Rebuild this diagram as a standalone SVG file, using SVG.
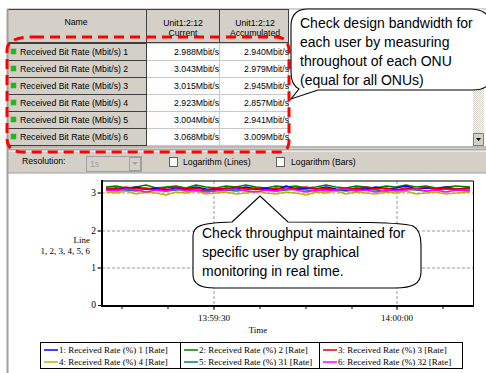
<svg xmlns="http://www.w3.org/2000/svg" width="486" height="373" viewBox="0 0 486 373">
<style>
.ui{font-family:"Liberation Sans",Arial,sans-serif;font-size:8.7px;fill:#000}
.ser{font-family:"Liberation Serif","Times New Roman",serif;font-size:9px;fill:#000}
.big{font-family:"Liberation Sans",Arial,sans-serif;font-size:14px;fill:#000}
.gcell{fill:#d4d0c8;stroke:#404040;stroke-width:1}
.wcell{fill:#fff;stroke:#c8c8c8;stroke-width:1}
.grid{stroke:#999;stroke-width:1;stroke-dasharray:3 2;fill:none}
.dl{fill:none;stroke-width:1.4;stroke-linejoin:round}
.bubble{fill:#fff;stroke:#000;stroke-width:1.1}
</style>
<defs>
<pattern id="chk" width="2" height="2" patternUnits="userSpaceOnUse">
<rect width="2" height="2" fill="#fff"/><rect width="1" height="1" fill="#d4d0c8"/><rect x="1" y="1" width="1" height="1" fill="#d4d0c8"/>
</pattern>
</defs>
<rect width="486" height="373" fill="#fff"/>
<g id="table">
<rect x="7" y="9" width="479" height="138" fill="#fff"/>
<line x1="7" y1="9" x2="486" y2="9" stroke="#a0a0a0"/>
<rect class="gcell" x="7.5" y="9.5" width="139" height="33"/>
<rect class="gcell" x="146.5" y="9.5" width="73" height="33"/>
<rect class="gcell" x="219.5" y="9.5" width="69" height="33"/>
<text class="ui" x="76" y="25" text-anchor="middle">Name</text>
<text class="ui" x="183" y="26" text-anchor="middle">Unit1:2:12</text>
<text class="ui" x="183" y="36" text-anchor="middle">Current</text>
<text class="ui" x="255" y="26" text-anchor="middle">Unit1:2:12</text>
<text class="ui" x="255" y="36" text-anchor="middle">Accumulated</text>
<g id="rows">
<rect class="gcell" x="7.5" y="43.5" width="139" height="17"/>
<rect class="gcell" x="7.5" y="60.5" width="139" height="17"/>
<rect class="gcell" x="7.5" y="77.5" width="139" height="17"/>
<rect class="gcell" x="7.5" y="94.5" width="139" height="17"/>
<rect class="gcell" x="7.5" y="111.5" width="139" height="17"/>
<rect class="gcell" x="7.5" y="128.5" width="139" height="17"/>
<rect class="wcell" x="146.5" y="43.5" width="73" height="17"/><rect class="wcell" x="219.5" y="43.5" width="69" height="17"/>
<rect class="wcell" x="146.5" y="60.5" width="73" height="17"/><rect class="wcell" x="219.5" y="60.5" width="69" height="17"/>
<rect class="wcell" x="146.5" y="77.5" width="73" height="17"/><rect class="wcell" x="219.5" y="77.5" width="69" height="17"/>
<rect class="wcell" x="146.5" y="94.5" width="73" height="17"/><rect class="wcell" x="219.5" y="94.5" width="69" height="17"/>
<rect class="wcell" x="146.5" y="111.5" width="73" height="17"/><rect class="wcell" x="219.5" y="111.5" width="69" height="17"/>
<rect class="wcell" x="146.5" y="128.5" width="73" height="17"/><rect class="wcell" x="219.5" y="128.5" width="69" height="17"/>
<line x1="146.5" y1="43" x2="146.5" y2="146" stroke="#404040"/>
<g fill="#00cc00" stroke="#808080" stroke-width="0.6">
<rect x="11" y="49" width="5" height="5"/><rect x="11" y="66" width="5" height="5"/><rect x="11" y="83" width="5" height="5"/>
<rect x="11" y="100" width="5" height="5"/><rect x="11" y="117" width="5" height="5"/><rect x="11" y="134" width="5" height="5"/>
</g>
<text class="ui" x="20" y="55">Received Bit Rate (Mbit/s) 1</text>
<text class="ui" x="20" y="72">Received Bit Rate (Mbit/s) 2</text>
<text class="ui" x="20" y="89">Received Bit Rate (Mbit/s) 3</text>
<text class="ui" x="20" y="106">Received Bit Rate (Mbit/s) 4</text>
<text class="ui" x="20" y="123">Received Bit Rate (Mbit/s) 5</text>
<text class="ui" x="20" y="140">Received Bit Rate (Mbit/s) 6</text>
<g text-anchor="end">
<text class="ui" x="219" y="55">2.988Mbit/s</text><text class="ui" x="289" y="55">2.940Mbit/s</text>
<text class="ui" x="219" y="72">3.043Mbit/s</text><text class="ui" x="289" y="72">2.979Mbit/s</text>
<text class="ui" x="219" y="89">3.015Mbit/s</text><text class="ui" x="289" y="89">2.945Mbit/s</text>
<text class="ui" x="219" y="106">2.923Mbit/s</text><text class="ui" x="289" y="106">2.857Mbit/s</text>
<text class="ui" x="219" y="123">3.004Mbit/s</text><text class="ui" x="289" y="123">2.941Mbit/s</text>
<text class="ui" x="219" y="140">3.068Mbit/s</text><text class="ui" x="289" y="140">3.009Mbit/s</text>
</g>
</g>
<g id="scrollbar">
<rect x="473" y="9" width="11" height="137" fill="url(#chk)"/>
<rect x="473.5" y="133.5" width="10" height="12" fill="#d4d0c8" stroke="#808080"/>
<polygon points="476,138 481,138 478.5,141" fill="#000"/>
</g>
</g>
<g id="toolbar">
<rect x="7" y="146" width="479" height="27" fill="#d4d0c8"/>
<line x1="7" y1="147" x2="486" y2="147" stroke="#a0a0a0"/>
<line x1="7" y1="150" x2="486" y2="150" stroke="#808080"/>
<line x1="7" y1="151" x2="486" y2="151" stroke="#fff"/>
<line x1="7" y1="173" x2="486" y2="173" stroke="#a0a0a0"/>
<text class="ui" x="22" y="164">Resolution:</text>
<rect x="86.5" y="156.5" width="55" height="15" fill="#d4d0c8" stroke="#a0a0a0"/>
<text class="ui" x="90" y="167" fill="#a0a0a0" style="fill:#a0a0a0">1s</text>
<rect x="129.5" y="157.5" width="11" height="13" fill="#d4d0c8" stroke="#a0a0a0"/>
<polygon points="132,162 138,162 135,165" fill="#a0a0a0"/>
<rect x="169.5" y="157.5" width="8" height="9" fill="#fff" stroke="#606060"/>
<text class="ui" x="183" y="165">Logarithm (Lines)</text>
<rect x="276.5" y="157.5" width="8" height="9" fill="#fff" stroke="#606060"/>
<text class="ui" x="291" y="165">Logarithm (Bars)</text>
</g>
<line x1="7.5" y1="9" x2="7.5" y2="373" stroke="#a0a0a0" stroke-width="2"/>
<g id="chart">
<g class="grid">
<line x1="97" y1="193" x2="473" y2="193"/>
<line x1="97" y1="231" x2="473" y2="231"/>
<line x1="97" y1="268" x2="473" y2="268"/>
<line x1="214" y1="181" x2="214" y2="310"/>
<line x1="397" y1="181" x2="397" y2="310"/>
</g>
<path d="M102,181 H473.5 V305.5 H102 Z" fill="none" stroke="#000" stroke-width="1"/>
<line x1="102" y1="180" x2="102" y2="307" stroke="#000" stroke-width="2"/>
<line x1="101" y1="306" x2="474" y2="306" stroke="#000" stroke-width="2"/>
<g stroke="#000" stroke-width="1">
<line x1="98" y1="193" x2="102" y2="193"/><line x1="98" y1="231" x2="102" y2="231"/>
<line x1="98" y1="268" x2="102" y2="268"/><line x1="98" y1="305.5" x2="102" y2="305.5"/>
<line x1="122" y1="306" x2="122" y2="309"/><line x1="168" y1="306" x2="168" y2="309"/>
<line x1="214" y1="306" x2="214" y2="310"/><line x1="260" y1="306" x2="260" y2="309"/>
<line x1="306" y1="306" x2="306" y2="309"/><line x1="352" y1="306" x2="352" y2="309"/>
<line x1="397" y1="306" x2="397" y2="310"/><line x1="443" y1="306" x2="443" y2="309"/>
</g>
<g class="ser" text-anchor="end" style="font-size:9.5px">
<text x="96" y="196">3</text><text x="96" y="234">2</text><text x="96" y="271">1</text><text x="96" y="308">0</text>
</g>
<text class="ser" x="90" y="243" text-anchor="end">Line</text>
<text class="ser" x="90" y="254" text-anchor="end">1, 2, 3, 4, 5, 6</text>
<text class="ser" x="214" y="321" text-anchor="middle">13:59:30</text>
<text class="ser" x="397" y="321" text-anchor="middle">14:00:00</text>
<text class="ser" x="258" y="333" text-anchor="middle">Time</text>
<g id="data">
<polyline class="dl" stroke="#b8b800" points="106,192 116,193 126,191 136,194 146,192 156,193 166,195 176,192 186,193 196,191 206,194 216,193 226,192 236,194 246,193 256,191 266,193 276,194 286,192 296,193 306,195 316,192 326,193 336,191 346,194 356,192 366,193 376,194 386,192 396,193 406,191 416,194 426,193 436,192 446,194 456,193 470,192"/>
<polyline class="dl" stroke="#008080" points="106,190 116,189 126,190 136,191 146,189 156,190 166,191 176,190 186,189 196,190 206,191 216,189 226,190 236,191 246,190 256,189 266,190 276,191 286,190 296,189 306,190 316,191 326,189 336,190 346,191 356,190 366,189 376,190 386,191 396,190 406,189 416,190 426,191 436,190 446,189 456,190 470,190"/>
<polyline class="dl" stroke="#008000" points="106,187 116,186 126,188 136,187 146,185 156,188 166,187 176,186 186,188 196,185 206,187 216,188 226,186 236,187 246,185 256,187 266,188 276,186 286,187 296,186 306,188 316,187 326,185 336,187 346,188 356,186 366,187 376,188 386,186 396,187 406,185 416,187 426,186 436,188 446,187 456,186 470,187"/>
<polyline class="dl" stroke="#0000ff" points="106,189 116,188 126,189 136,187 146,189 156,188 166,190 176,188 186,189 196,187 206,189 216,190 226,188 236,189 246,187 256,189 266,188 276,190 286,186 296,189 306,188 316,189 326,187 336,189 346,190 356,188 366,189 376,187 386,189 396,188 406,186 416,189 426,188 436,189 446,187 456,189 470,188"/>
<polyline class="dl" stroke="#e00000" points="106,188 116,189 126,187 136,189 146,188 156,190 166,188 176,187 186,189 196,188 206,190 216,188 226,189 236,187 246,189 256,188 266,190 276,188 286,189 296,188 306,187 316,189 326,188 336,190 346,188 356,189 366,187 376,189 386,188 396,190 406,188 416,189 426,187 436,189 446,188 456,189 470,188"/>
<polyline class="dl" stroke="#ff00ff" points="106,190 116,191 126,189 136,190 146,192 156,190 166,191 176,189 186,191 196,190 206,192 216,191 226,190 236,189 246,191 256,192 266,190 276,191 286,189 296,190 306,192 316,190 326,191 336,190 346,189 356,191 366,190 376,192 386,190 396,191 406,190 416,189 426,191 436,190 446,192 456,190 470,191"/>
</g>
<g id="legend">
<rect x="40.5" y="342.5" width="422" height="26" fill="#fff" stroke="#000"/>
<line x1="180.5" y1="342" x2="180.5" y2="369" stroke="#000"/>
<line x1="319.5" y1="342" x2="319.5" y2="369" stroke="#000"/>
<g stroke-width="1.5">
<line x1="44" y1="350" x2="58" y2="350" stroke="#0000ff"/>
<line x1="44" y1="362" x2="58" y2="362" stroke="#b8b800"/>
<line x1="184" y1="350" x2="198" y2="350" stroke="#008000"/>
<line x1="184" y1="362" x2="198" y2="362" stroke="#008080"/>
<line x1="323" y1="350" x2="337" y2="350" stroke="#e00000"/>
<line x1="323" y1="362" x2="337" y2="362" stroke="#ff00ff"/>
</g>
<text class="ser" x="59" y="353">1: Received Rate (%) 1 [Rate]</text>
<text class="ser" x="59" y="365">4: Received Rate (%) 4 [Rate]</text>
<text class="ser" x="199" y="353">2: Received Rate (%) 2 [Rate]</text>
<text class="ser" x="199" y="365">5: Received Rate (%) 31 [Rate]</text>
<text class="ser" x="338" y="353">3: Received Rate (%) 3 [Rate]</text>
<text class="ser" x="338" y="365">6: Received Rate (%) 32 [Rate]</text>
</g>
</g>
<g id="highlight">
<path d="M34,37 H276 C285,37 289,42 289,52 V140 C289,148 286,152 280,152 H22 C12,152 7,147 7,138 V50 C7,42 14,37 34,37 Z" fill="none" stroke="#ff0000" stroke-width="3" stroke-dasharray="10 6"/>
</g>
<g id="callout1">
<path class="bubble" d="M308,9 H470 C482,9 490,14 490,24 V78 C490,86 484,90 472,90 H318 L291,99 L299,89 C293,86 291,81 291,72 V26 C291,15 297,9 308,9 Z"/>
<text class="big" x="300" y="28">Check design bandwidth for</text>
<text class="big" x="300" y="47">each user by measuring</text>
<text class="big" x="300" y="66">throughout of each ONU</text>
<text class="big" x="300" y="85">(equal for all ONUs)</text>
</g>
<g id="callout2">
<path class="bubble" d="M232,222 L260,196 L288,222 C350,222 402,222 413,226 C419,229 421,235 421,245 V272 C421,284 412,288 395,288 H215 C200,288 193,283 193,275 V236 C193,226 200,223 232,222 Z"/>
<text class="big" x="202" y="238">Check throughput maintained for</text>
<text class="big" x="202" y="257">specific user by graphical</text>
<text class="big" x="202" y="276">monitoring in real time.</text>
</g>
</svg>
